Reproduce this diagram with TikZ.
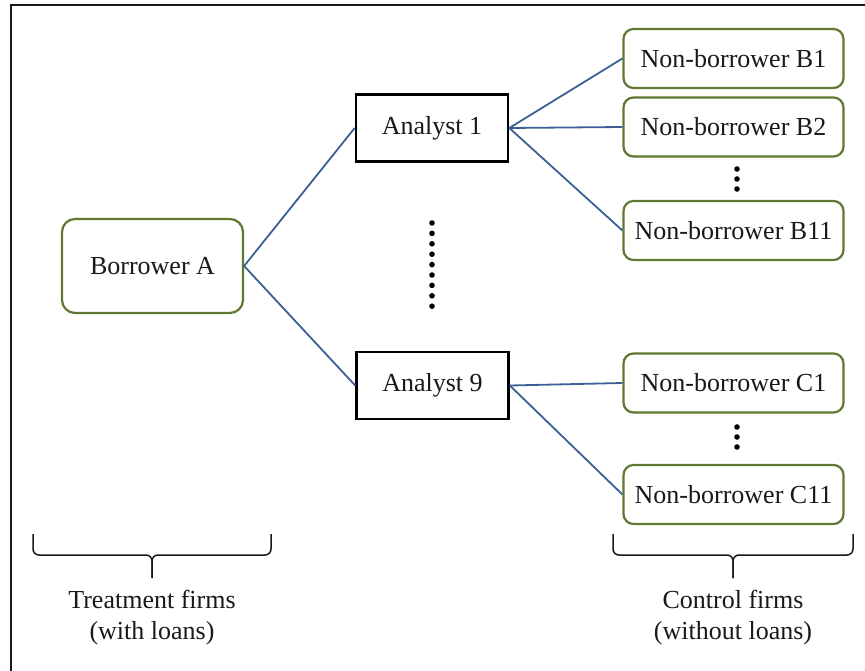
\documentclass[tikz,border=0pt]{standalone}
\usepackage{fontspec}
\setmainfont{Liberation Serif}
\definecolor{linkblue}{RGB}{60,96,150}
\definecolor{boxgreen}{RGB}{95,120,50}
\definecolor{ink}{RGB}{25,25,25}
\begin{document}
\begin{tikzpicture}[x=1pt,y=-1pt,
  every node/.style={font=\fontsize{26}{31}\selectfont, text=ink},
  firm/.style={draw=boxgreen, line width=2.2pt, rounded corners=10pt, fill=white,
    minimum width=220pt, minimum height=59pt, inner sep=0pt},
  borrower/.style={firm, rounded corners=13pt, minimum width=181pt, minimum height=94pt},
  analyst/.style={draw=black, line width=2.6pt, fill=white, minimum width=152pt,
    minimum height=67pt, inner sep=0pt},
  link/.style={draw=linkblue, line width=1.8pt},
  bracepath/.style={draw=ink, line width=1.5pt, rounded corners=6pt},
  frameline/.style={draw=ink, line width=2pt}]
\useasboundingbox (0,0) rectangle (865,671);
\draw[frameline] (11,671) -- (11,5) -- (865,5);

% nodes
\node[borrower] (A) at (152.5,266) {Borrower A};
\node[analyst] (an1) at (432,128) {Analyst 1};
\node[analyst] (an9) at (432.5,385.5) {Analyst 9};
\node[firm] (b1) at (733.5,58.5) {Non-borrower B1};
\node[firm] (b2) at (733.5,127) {Non-borrower B2};
\node[firm] (b11) at (733.5,230.5) {Non-borrower B11};
\node[firm] (c1) at (733.5,383) {Non-borrower C1};
\node[firm] (c11) at (733.5,494.5) {Non-borrower C11};

% connectors
\draw[link] (A.east) -- (an1.west);
\draw[link] (A.east) -- (an9.west);
\draw[link] (an1.east) -- (b1.west);
\draw[link] (an1.east) -- (b2.west);
\draw[link] (an1.east) -- (b11.west);
\draw[link] (an9.east) -- (c1.west);
\draw[link] (an9.east) -- (c11.west);

% dots
\foreach \y in {169,179,189} \fill[black] (737,\y) circle (2.8pt);
\foreach \y in {427,437,447} \fill[black] (737,\y) circle (2.8pt);
\foreach \y in {223,233.4,243.8,254.2,264.6,275,285.4,295.8,306.2} \fill[black] (432,\y) circle (2.8pt);

% braces
\draw[bracepath] (33,534) -- (33,555) -- (152,555) -- (152,578);
\draw[bracepath] (271,534) -- (271,555) -- (152,555) -- (152,578);
\draw[bracepath] (613,534) -- (613,555) -- (733,555) -- (733,578);
\draw[bracepath] (853,534) -- (853,555) -- (733,555) -- (733,578);

% labels
\node[align=center] (treat) at (152,618) {Treatment firms\\(with loans)};
\node[align=center] (ctrl) at (733,618) {Control firms\\(without loans)};
\end{tikzpicture}
\end{document}
